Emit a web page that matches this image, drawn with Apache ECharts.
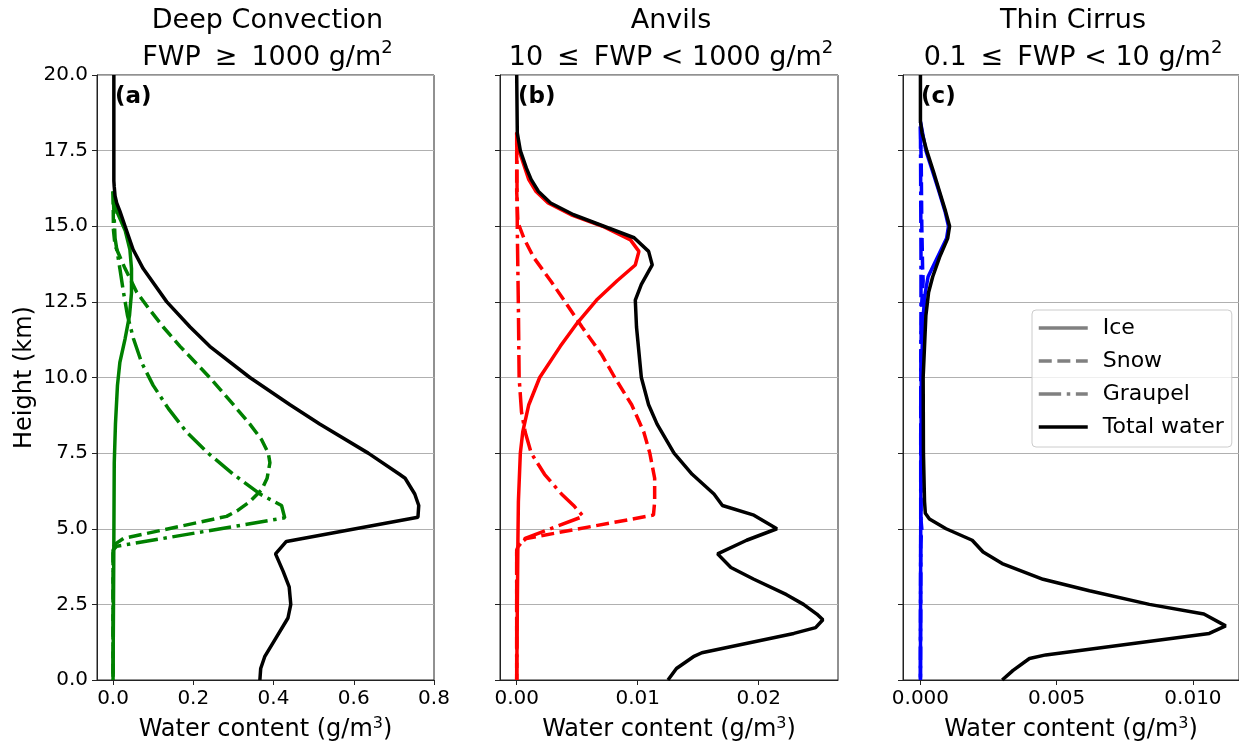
<!DOCTYPE html>
<html><head><meta charset="utf-8">
<script src="https://cdn.jsdelivr.net/npm/echarts@6/dist/echarts.min.js"></script>
<style>html,body{margin:0;padding:0;background:#fff}#c{width:1239px;height:747px}</style>
</head><body><div id="c"></div>
<script>
// ---------- DATA (heights in km, water content in g/m^3) ----------
const yTickLabels = [0, 2.5, 5, 7.5, 10, 12.5, 15, 17.5, 20];
const xTicksA = [0, 0.2, 0.4, 0.6, 0.8];
const xTicksB = [0, 0.01, 0.02];
const xTicksC = [0, 0.005, 0.01];
const panelTitles = ['Deep Convection', 'Anvils', 'Thin Cirrus'];
const panelSubtitles = ['FWP \u2009\u2265\u2009 1000 g/m', '10 \u2009\u2264\u2009 FWP < 1000 g/m', '0.1 \u2009\u2264\u2009 FWP < 10 g/m'];
const panelLetters = ['(a)', '(b)', '(c)'];
const legendNames = ['Ice', 'Snow', 'Graupel', 'Total water'];

// Panel (a) Deep convection
const hA_total = [20, 18, 16.5, 16.3, 16.0, 15.77, 15.5, 15.0, 14.23, 13.6, 12.5, 11.67, 11.03, 10.0, 9.1, 8.46, 7.5, 6.8, 6.67, 6.15, 5.77, 5.38, 4.58, 4.17, 3.59, 3.08, 2.5, 2.05, 1.41, 0.77, 0.38, 0];
const xA_total = [0.002, 0.002, 0.002, 0.003, 0.005, 0.009, 0.017, 0.03, 0.05, 0.075, 0.134, 0.192, 0.241, 0.341, 0.441, 0.515, 0.636, 0.714, 0.728, 0.752, 0.762, 0.760, 0.432, 0.405, 0.424, 0.439, 0.443, 0.436, 0.407, 0.378, 0.368, 0.366];
const hA_ice = [16.15, 15.5, 14.87, 14.23, 13.6, 12.8, 12.05, 11.28, 10.5, 9.74, 8.46, 7.18, 4.6, 0];
const xA_ice = [0.0, 0.009, 0.03, 0.042, 0.046, 0.046, 0.041, 0.03, 0.017, 0.011, 0.006, 0.003, 0.002, 0.0];
const hA_snow = [16.15, 14.87, 14.36, 13.6, 12.82, 12.3, 11.67, 11.03, 10.0, 9.1, 8.46, 7.95, 7.5, 7.18, 6.67, 6.28, 5.9, 5.6, 5.41, 4.68, 4.49, 4.36, 0];
const xA_snow = [0, 0.001, 0.005, 0.03, 0.059, 0.088, 0.125, 0.167, 0.241, 0.3, 0.341, 0.37, 0.387, 0.391, 0.384, 0.37, 0.341, 0.31, 0.283, 0.026, 0.005, 0, 0];
const hA_grau = [16.15, 14.6, 13.6, 12.82, 12.05, 11.28, 10.5, 9.74, 8.97, 8.2, 7.5, 6.8, 6.15, 5.77, 5.36, 4.42, 4.3, 0];
const xA_grau = [0, 0.005, 0.017, 0.026, 0.036, 0.051, 0.071, 0.1, 0.138, 0.183, 0.237, 0.3, 0.366, 0.42, 0.428, 0.009, 0, 0];

// Panel (b) Anvils
const hB_total = [20, 18.08, 17.5, 16.92, 16.54, 16.15, 15.77, 15.38, 15.0, 14.62, 14.17, 13.72, 13.08, 12.56, 11.67, 10.0, 9.1, 8.46, 7.5, 6.8, 6.15, 5.77, 5.45, 5.0, 4.62, 4.17, 3.72, 3.33, 2.82, 2.5, 2.18, 1.99, 1.73, 1.54, 0.9, 0.77, 0.38, 0];
const xB_total = [0, 0.00005, 0.0003, 0.0008, 0.0012, 0.0018, 0.0028, 0.0047, 0.0072, 0.0097, 0.0109, 0.0112, 0.0103, 0.0098, 0.0099, 0.0103, 0.0109, 0.0116, 0.013, 0.0145, 0.0163, 0.017, 0.0196, 0.0215, 0.019, 0.0166, 0.0177, 0.0196, 0.0223, 0.0237, 0.0248, 0.0253, 0.0247, 0.0229, 0.0153, 0.0146, 0.0132, 0.0125];
const hB_ice = [17.8, 17.5, 16.54, 16.15, 15.77, 15.38, 15.0, 14.55, 14.17, 13.72, 13.2, 12.56, 11.8, 11.03, 10.0, 9.1, 8.2, 7.5, 5.9, 4.62, 0];
const xB_ice = [0, 0.0002, 0.001, 0.0016, 0.0026, 0.0045, 0.0071, 0.0094, 0.0101, 0.0098, 0.0083, 0.0066, 0.005, 0.0036, 0.0019, 0.001, 0.0005, 0.0003, 0.00014, 0.0001, 0];
const hB_snow = [18.1, 16.15, 15.13, 14.6, 13.97, 13.2, 12.5, 11.67, 10.77, 10.0, 9.1, 8.2, 7.5, 6.67, 5.9, 5.45, 4.68, 4.49, 4.3, 0];
const xB_snow = [0, 0, 0.0001, 0.0006, 0.0014, 0.0028, 0.004, 0.0054, 0.007, 0.0081, 0.0095, 0.0105, 0.011, 0.0114, 0.0114, 0.0113, 0.0008, 0.0002, 0, 0];
const hB_grau = [18.1, 14.87, 12.3, 10.0, 8.85, 8.2, 7.5, 6.8, 6.15, 5.77, 5.41, 4.68, 4.42, 4.3, 0];
const xB_grau = [0, 0.00005, 0.00014, 0.0002, 0.0004, 0.0007, 0.0012, 0.0023, 0.0037, 0.0047, 0.0055, 0.0007, 0.00014, 0, 0];

// Panel (c) Thin cirrus
const hC_total = [20, 18.46, 18.08, 17.5, 16.8, 16.15, 15.5, 15.0, 14.6, 13.97, 13.33, 12.82, 12.05, 10.0, 7.5, 5.9, 5.51, 5.32, 5.0, 4.62, 4.23, 3.85, 3.33, 2.95, 2.5, 2.18, 1.79, 1.54, 0.83, 0.71, 0.32, 0];
const xC_total = [0, 0, 0.00006, 0.00023, 0.00048, 0.0007, 0.00092, 0.00107, 0.001, 0.0007, 0.00045, 0.0003, 0.0002, 0.0001, 0.00011, 0.00015, 0.00018, 0.00033, 0.00094, 0.0019, 0.0023, 0.003, 0.0045, 0.0062, 0.0084, 0.0104, 0.0112, 0.0106, 0.0046, 0.004, 0.0034, 0.003];
const hC_ice = [18.46, 17.5, 16.8, 16.15, 15.5, 15.0, 14.6, 13.97, 13.33, 12.82, 12.05, 10.0, 7.5, 5.0, 0];
const xC_ice = [0, 0.0002, 0.00045, 0.00068, 0.0009, 0.00103, 0.00096, 0.00062, 0.00028, 0.00018, 0.0001, 0.00003, 0.00002, 0.00001, 0];
const hC_snow = [18.3, 17, 15, 13.6, 13.2, 12.5, 11, 9, 5.3, 5.0, 4.5, 0];
const xC_snow = [0, 0.00003, 0.00005, 0.00008, 0.0001, 0.00005, 0.00002, 0.00001, 0.00002, 0.00005, 0.00001, 0];
const hC_grau = [18.3, 14, 12, 8, 5, 0];
const xC_grau = [0, 0.00002, 0.00002, 0.00001, 0.00001, 0];

// ---------- LAYOUT / STYLE ----------
const FONT = 'DejaVu Sans';
const LW = 3.5;
const DASH = [13, 5.6];
const DASHDOT = [22.4, 5.6, 3.5, 5.6];
const gridPos = [
  {left: 97, top: 75, width: 337, height: 607},
  {left: 500, top: 75, width: 338, height: 607},
  {left: 903, top: 75, width: 336, height: 607}
];
const xRanges = [[-0.04, 0.8], [-0.00138, 0.02655], [-0.00064, 0.01169]];
const xTicks = [xTicksA, xTicksB, xTicksC];
const xDec = [1, 2, 3];
const colors = ['#008000', '#ff0000', '#0000ff'];
const panelData = [
  [[xA_ice, hA_ice], [xA_snow, hA_snow], [xA_grau, hA_grau], [xA_total, hA_total]],
  [[xB_ice, hB_ice], [xB_snow, hB_snow], [xB_grau, hB_grau], [xB_total, hB_total]],
  [[xC_ice, hC_ice], [xC_snow, hC_snow], [xC_grau, hC_grau], [xC_total, hC_total]]
];
const styleTypes = ['solid', DASH, DASHDOT, 'solid'];

const grids = gridPos.map(g => Object.assign({show: true, borderColor: '#222', borderWidth: 1, containLabel: false}, g));

const xAxes = gridPos.map((g, i) => ({
  gridIndex: i, type: 'value', min: xRanges[i][0], max: xRanges[i][1],
  axisLine: {show: true, onZero: false, lineStyle: {color: '#222', width: 1}},
  axisTick: {show: true, length: 5, customValues: xTicks[i], lineStyle: {color: '#222'}},
  axisLabel: {customValues: xTicks[i], formatter: v => Number(v).toFixed(xDec[i]), fontSize: 20, color: '#000', fontFamily: FONT, margin: 9},
  splitLine: {show: false},
  name: '{n|Water content (g/m}{s|3}{n|)}', nameLocation: 'middle', nameGap: 36,
  nameTextStyle: {fontFamily: FONT, color: '#000', rich: {
    n: {fontSize: 24, fontFamily: FONT, color: '#000', lineHeight: 28},
    s: {fontSize: 16, fontFamily: FONT, color: '#000', lineHeight: 20, verticalAlign: 'top'}
  }}
}));

const yAxes = gridPos.map((g, i) => ({
  gridIndex: i, type: 'value', min: 0, max: 20, interval: 2.5,
  axisLine: {show: true, onZero: false, lineStyle: {color: '#222', width: 1}},
  axisTick: {show: true, length: 5, lineStyle: {color: '#222'}},
  axisLabel: {show: i === 0, customValues: yTickLabels, formatter: v => Number(v).toFixed(1), fontSize: 20, color: '#000', fontFamily: FONT, margin: 9},
  splitLine: {show: true, lineStyle: {color: '#b0b0b0', width: 1}},
  name: i === 0 ? 'Height (km)' : '', nameLocation: 'middle', nameGap: 60,
  nameTextStyle: {fontSize: 24, fontFamily: FONT, color: '#000'}
}));

const series = [];
panelData.forEach((pd, i) => {
  pd.forEach((pair, k) => {
    const xs = pair[0], hs = pair[1];
    series.push({
      name: 'p' + i + '_' + legendNames[k], type: 'line', xAxisIndex: i, yAxisIndex: i,
      data: xs.map((x, j) => [x, hs[j]]), symbol: 'none', smooth: false, clip: true,
      lineStyle: {color: k === 3 ? '#000' : colors[i], width: LW, type: styleTypes[k]},
      itemStyle: {color: k === 3 ? '#000' : colors[i]}, z: 2 + k, silent: true
    });
  });
});
// legend proxies (gray entries)
legendNames.forEach((nm, k) => {
  series.push({
    name: nm, type: 'line', xAxisIndex: 2, yAxisIndex: 2, data: [], symbol: 'none',
    lineStyle: {color: k === 3 ? '#000' : '#808080', width: LW, type: styleTypes[k]},
    itemStyle: {color: k === 3 ? '#000' : '#808080', opacity: 0}
  });
});

const graphics = [];
gridPos.forEach((g, i) => {
  const cx = g.left + g.width / 2 + 2;
  graphics.push({
    type: 'text', x: cx, y: 2, silent: true,
    style: {
      text: '{t|' + panelTitles[i] + '}\n{t|' + panelSubtitles[i] + '}{s|2}',
      align: 'center', verticalAlign: 'top',
      rich: {
        t: {fontSize: 27, fontFamily: FONT, fill: '#000', lineHeight: 37},
        s: {fontSize: 18, fontFamily: FONT, fill: '#000', lineHeight: 24, verticalAlign: 'top'}
      }
    }
  });
  graphics.push({
    type: 'text', x: g.left + 18, y: 86, silent: true, z: 100,
    style: {text: panelLetters[i], font: 'bold 23px "DejaVu Sans"', fill: '#000'}
  });
});

const option = {
  animation: false,
  backgroundColor: '#fff',
  grid: grids, xAxis: xAxes, yAxis: yAxes, series: series,
  graphic: graphics,
  legend: {
    data: legendNames, orient: 'vertical', left: 1032, top: 310, selectedMode: false,
    itemWidth: 49, itemHeight: 2, itemGap: 9,
    lineStyle: {width: LW},
    itemStyle: {opacity: 0},
    textStyle: {fontSize: 22, fontFamily: FONT, color: '#000', lineHeight: 24, padding: [0, 0, 0, 10]},
    backgroundColor: 'rgba(255,255,255,0.8)', borderColor: '#cccccc', borderWidth: 1, borderRadius: 4,
    padding: [6, 8, 8, 5], z: 50
  }
};
const chart = echarts.init(document.getElementById('c'), null, {renderer: 'canvas'});
chart.setOption(option);
</script>
</body></html>
